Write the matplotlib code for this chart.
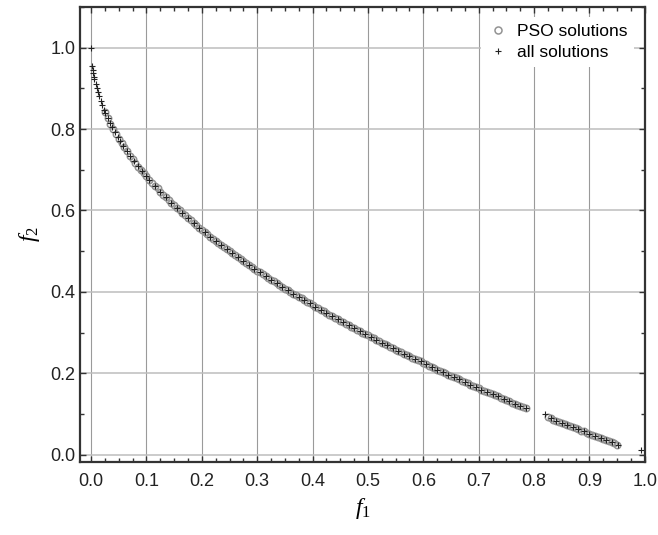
import matplotlib
matplotlib.use('Agg')
import matplotlib.pyplot as plt
from matplotlib.ticker import MultipleLocator, FormatStrFormatter

plt.rcParams['font.family'] = ['Liberation Sans', 'DejaVu Sans']
plt.rcParams['mathtext.fontset'] = 'custom'
plt.rcParams['mathtext.rm'] = 'Liberation Serif'
plt.rcParams['mathtext.it'] = 'Liberation Serif:italic'

# PSO solutions
pso_f1 = [0.025, 0.03, 0.035, 0.04, 0.045, 0.05, 0.055, 0.06, 0.065, 0.07,
          0.075, 0.08, 0.085, 0.09, 0.095, 0.10, 0.105,
          0.11, 0.115, 0.12, 0.125, 0.13, 0.135, 0.14, 0.145, 0.15, 0.155,
          0.16, 0.165, 0.17, 0.175, 0.18, 0.185, 0.19, 0.195, 0.20, 0.205,
          0.21, 0.215, 0.22, 0.225, 0.23, 0.235, 0.24, 0.245, 0.25, 0.255,
          0.26, 0.265, 0.27, 0.275, 0.28, 0.285, 0.29, 0.295, 0.30, 0.305,
          0.31, 0.315, 0.32, 0.325, 0.33, 0.335, 0.34, 0.345, 0.35, 0.355,
          0.36, 0.365, 0.37, 0.375, 0.38, 0.385, 0.39, 0.395, 0.40, 0.405,
          0.41, 0.415, 0.42, 0.425, 0.43, 0.435, 0.44, 0.445, 0.45, 0.455,
          0.46, 0.465, 0.47, 0.475, 0.48, 0.485, 0.49, 0.495, 0.50, 0.505,
          0.51, 0.515, 0.52, 0.525, 0.53, 0.535, 0.54, 0.545, 0.55, 0.555,
          0.56, 0.565, 0.57, 0.575, 0.58, 0.585, 0.59, 0.595, 0.60, 0.605,
          0.61, 0.615, 0.62, 0.625, 0.63, 0.635, 0.64, 0.645, 0.65, 0.655,
          0.66, 0.665, 0.67, 0.675, 0.68, 0.685, 0.69, 0.695, 0.70, 0.705,
          0.71, 0.715, 0.72, 0.725, 0.73, 0.735, 0.74, 0.745, 0.75, 0.755,
          0.76, 0.765, 0.77, 0.775, 0.78, 0.785,
          0.825, 0.83, 0.835, 0.84, 0.845, 0.85, 0.855, 0.86, 0.865, 0.87,
          0.875, 0.88, 0.885, 0.89, 0.895, 0.90, 0.905, 0.91, 0.915, 0.92,
          0.925, 0.93, 0.935, 0.94, 0.945, 0.95]
pso_f2 = [0.842, 0.827, 0.813, 0.800, 0.788, 0.776, 0.765, 0.755, 0.745, 0.735,
          0.726, 0.717, 0.708, 0.700, 0.692, 0.684, 0.676,
          0.668, 0.661, 0.654, 0.646, 0.639, 0.633, 0.626, 0.619, 0.613, 0.606,
          0.600, 0.594, 0.588, 0.582, 0.576, 0.570, 0.564, 0.558, 0.553, 0.547,
          0.542, 0.536, 0.531, 0.526, 0.520, 0.515, 0.510, 0.505, 0.500, 0.495,
          0.490, 0.485, 0.480, 0.476, 0.471, 0.466, 0.461, 0.457, 0.452, 0.448,
          0.443, 0.439, 0.434, 0.430, 0.426, 0.421, 0.417, 0.413, 0.408, 0.404,
          0.400, 0.396, 0.392, 0.388, 0.384, 0.380, 0.376, 0.372, 0.368, 0.364,
          0.360, 0.356, 0.352, 0.348, 0.344, 0.340, 0.337, 0.333, 0.329, 0.325,
          0.322, 0.318, 0.314, 0.311, 0.307, 0.304, 0.300, 0.296, 0.293, 0.289,
          0.286, 0.282, 0.279, 0.275, 0.272, 0.269, 0.265, 0.262, 0.258, 0.255,
          0.252, 0.248, 0.245, 0.242, 0.238, 0.235, 0.232, 0.229, 0.225, 0.222,
          0.219, 0.216, 0.213, 0.209, 0.206, 0.203, 0.200, 0.197, 0.194, 0.191,
          0.188, 0.185, 0.181, 0.178, 0.175, 0.172, 0.169, 0.166, 0.163, 0.160,
          0.157, 0.154, 0.151, 0.149, 0.146, 0.143, 0.140, 0.137, 0.134, 0.131,
          0.128, 0.125, 0.123, 0.120, 0.117, 0.114,
          0.092, 0.089, 0.086, 0.083, 0.081, 0.078, 0.075, 0.073, 0.070, 0.067,
          0.065, 0.062, 0.059, 0.057, 0.054, 0.051, 0.049, 0.046, 0.043, 0.041,
          0.038, 0.036, 0.033, 0.030, 0.028, 0.025]

# all solutions
all_f1 = [0.0, 0.002, 0.003, 0.004, 0.005, 0.006, 0.008, 0.010, 0.012, 0.014,
          0.017, 0.020, 0.023, 0.026, 0.030, 0.034, 0.038, 0.043, 0.048, 0.053,
          0.058, 0.064, 0.070, 0.077, 0.084, 0.092, 0.100,
          0.105, 0.115, 0.125, 0.135, 0.145, 0.155, 0.165, 0.175, 0.185, 0.195,
          0.205, 0.215, 0.225, 0.235, 0.245, 0.255, 0.265, 0.275, 0.285, 0.295,
          0.305, 0.315, 0.325, 0.335, 0.345, 0.355, 0.365, 0.375, 0.385, 0.395,
          0.405, 0.415, 0.425, 0.435, 0.445, 0.455, 0.465, 0.475, 0.485, 0.495,
          0.505, 0.515, 0.525, 0.535, 0.545, 0.555, 0.565, 0.575, 0.585, 0.595,
          0.605, 0.615, 0.625, 0.635, 0.645, 0.655, 0.665, 0.675, 0.685, 0.695,
          0.705, 0.715, 0.725, 0.735, 0.745, 0.755, 0.765, 0.775, 0.785,
          0.820, 0.830, 0.840, 0.850, 0.860, 0.870, 0.880, 0.890, 0.900,
          0.910, 0.920, 0.930, 0.940, 0.952, 0.993]
all_f2 = [1.000, 0.955, 0.945, 0.937, 0.929, 0.923, 0.911, 0.900, 0.890, 0.882,
          0.870, 0.859, 0.848, 0.839, 0.827, 0.816, 0.805, 0.793, 0.781, 0.770,
          0.759, 0.747, 0.735, 0.722, 0.710, 0.697, 0.684,
          0.676, 0.661, 0.646, 0.633, 0.619, 0.606, 0.594, 0.582, 0.570, 0.558,
          0.547, 0.536, 0.526, 0.515, 0.505, 0.495, 0.485, 0.476, 0.466, 0.457,
          0.448, 0.439, 0.430, 0.421, 0.413, 0.404, 0.396, 0.388, 0.380, 0.372,
          0.364, 0.356, 0.348, 0.340, 0.333, 0.325, 0.318, 0.311, 0.304, 0.296,
          0.289, 0.282, 0.275, 0.269, 0.262, 0.255, 0.248, 0.242, 0.235, 0.229,
          0.222, 0.216, 0.209, 0.203, 0.197, 0.191, 0.185, 0.178, 0.172, 0.166,
          0.160, 0.154, 0.149, 0.143, 0.137, 0.131, 0.125, 0.120, 0.114,
          0.100, 0.089, 0.083, 0.078, 0.073, 0.067, 0.062, 0.057, 0.051,
          0.046, 0.041, 0.036, 0.030, 0.024, 0.012]

fig = plt.figure(figsize=(6.58, 5.35), dpi=100)
ax = fig.add_axes([0.1216, 0.1364, 0.8584, 0.8506])

ax.plot(pso_f1, pso_f2, linestyle='none', marker='o', markersize=4.6,
        markerfacecolor='none', markeredgecolor='#939393', markeredgewidth=1.1,
        label='PSO solutions')
ax.plot(all_f1, all_f2, linestyle='none', marker='+', markersize=4,
        color='#222222', markeredgewidth=0.8, label='all solutions')

ax.set_xlim(-0.02, 1.0)
ax.set_ylim(-0.018, 1.1)
ax.xaxis.set_major_locator(MultipleLocator(0.1))
ax.xaxis.set_minor_locator(MultipleLocator(0.025))
ax.yaxis.set_major_locator(MultipleLocator(0.2))
ax.yaxis.set_minor_locator(MultipleLocator(0.1))
ax.xaxis.set_major_formatter(FormatStrFormatter('%.1f'))
ax.yaxis.set_major_formatter(FormatStrFormatter('%.1f'))

ax.grid(True, axis='x', which='major', color='#9a9a9a', linewidth=0.8)
ax.grid(True, axis='y', which='major', color='#bdbdbd', linewidth=1.1)
ax.set_axisbelow(True)

ax.tick_params(which='both', direction='in', top=True, right=True,
               labelsize=13, colors='#333333', labelcolor='#222222')
ax.tick_params(which='major', length=4, width=1)
ax.tick_params(which='minor', length=3, width=1)
ax.tick_params(axis='x', pad=8)
for s in ax.spines.values():
    s.set_linewidth(1.6)
    s.set_color('#333333')

ax.set_xlabel('$f_1$', fontsize=17, labelpad=4)
ax.set_ylabel('$f_2$', fontsize=17, labelpad=6)

leg = ax.legend(loc='upper right', fontsize=12.5, frameon=True, fancybox=False,
                edgecolor='none', facecolor='white', framealpha=1,
                handletextpad=0.5, borderaxespad=0.6, labelspacing=0.3,
                handlelength=1.2, markerscale=1.1)

fig.savefig('out.png', dpi=100)
